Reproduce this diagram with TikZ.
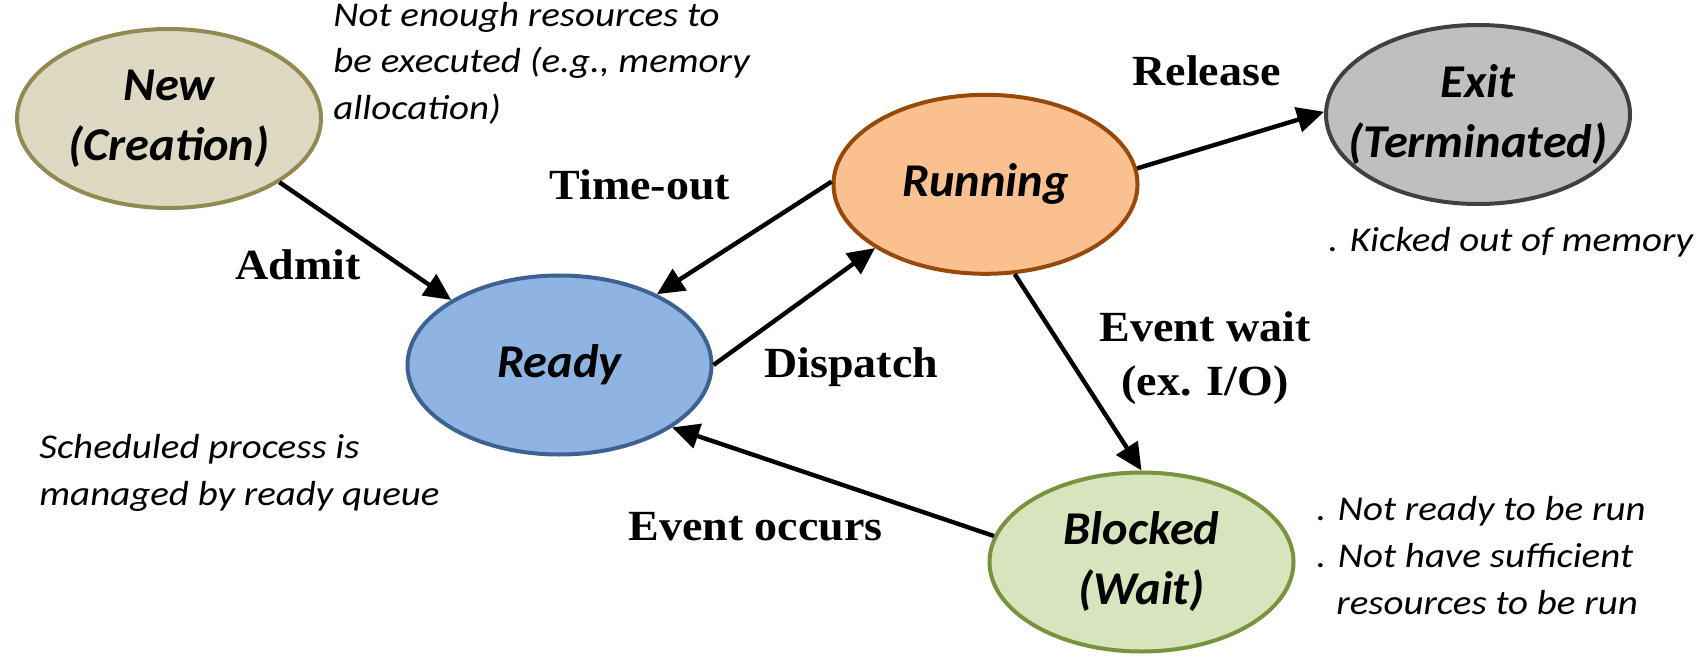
\documentclass[tikz,border=0pt]{standalone}
\usepackage{fontspec}
\setmainfont{Carlito}
\newfontfamily\annfont{Carlito}[FakeStretch=1.12]
\newfontfamily\statefont{Carlito}[FakeStretch=1.03]
\newfontfamily\lblfont{Liberation Serif}[FakeStretch=1.07]
\usetikzlibrary{arrows.meta,shapes.geometric}
\definecolor{newfill}{HTML}{DDD9C3}
\definecolor{newdraw}{HTML}{938953}
\definecolor{readyfill}{HTML}{8EB4E3}
\definecolor{readydraw}{HTML}{3D6291}
\definecolor{runfill}{HTML}{FAC090}
\definecolor{rundraw}{HTML}{984807}
\definecolor{exitfill}{HTML}{BFBFBF}
\definecolor{exitdraw}{HTML}{404040}
\definecolor{blkfill}{HTML}{D7E4BD}
\definecolor{blkdraw}{HTML}{77933C}
\begin{document}
\begin{tikzpicture}[x=0.5pt,y=-0.5pt,
  state/.style={ellipse, draw, line width=2pt, minimum width=152pt, minimum height=89.5pt, inner sep=0pt},
  stxt/.style={font=\statefont\fontsize{23.5}{30}\selectfont\bfseries\itshape, align=center, inner sep=0pt},
  conn/.style={line width=2.2pt, -{Triangle[length=13.5pt,width=12.5pt]}},
  ann/.style={font=\annfont\fontsize{17.4}{23.3}\selectfont\itshape, anchor=base west, inner sep=0pt},
  elbl/.style={font=\lblfont\fontsize{21.5}{26}\selectfont\bfseries, anchor=base west, inner sep=0pt},
  elblc/.style={elbl, anchor=base}]
\useasboundingbox (0,0) rectangle (1700,662);

% states
\node[state, fill=newfill, draw=newdraw] (new) at (169,118.5) {};
\node[stxt] (newtxt) at (new.center) {New\\(Creation)};
\node[state, fill=readyfill, draw=readydraw] (ready) at (559.5,365) {};
\node[stxt] (readytxt) at (ready.center) {Ready};
\node[state, fill=runfill, draw=rundraw] (run) at (985.5,184.3) {};
\node[stxt] (runtxt) at (run.center) {Running};
\node[state, fill=exitfill, draw=exitdraw] (exit) at (1478,114.5) {};
\node[stxt] (exittxt) at (exit.center) {Exit\\(Terminated)};
\node[state, fill=blkfill, draw=blkdraw] (blk) at (1141.5,562) {};
\node[stxt] (blktxt) at (blk.center) {Blocked\\(Wait)};

% connectors
\draw[conn] (new.-30) -- (ready.149);
\draw[conn] (run.179) -- (ready.36);
\draw[conn] (ready.0) -- (run.210.4);
\draw[conn] (run.6.6) -- (exit.179.5);
\draw[conn] (run.-72) -- (blk.90);
\draw[conn] (blk.170.7) -- (ready.-29.7);

% edge labels
\node[elbl] (ladmit) at (235,280) {Admit};
\node[elbl] (ltime) at (549,200) {Time-out};
\node[elbl] (lrel) at (1132,86) {Release};
\node[elbl] (ldisp) at (764,377) {Dispatch};
\node[elblc] (lwait1) at (1205,342) {Event wait};
\node[elblc] (lwait2) at (1205,395) {(ex. I/O)};
\node[elbl] (locc) at (628,540) {Event occurs};

% annotations
\node[ann] (a1) at (333,27) {Not enough resources to};
\node[ann] (a2) at (333,73) {be executed (e.g., memory};
\node[ann] (a3) at (333,120) {allocation)};
\node[ann] (b1) at (39,458) {Scheduled process is};
\node[ann] (b2) at (39,505) {managed by ready queue};
\node[ann] (c1) at (1328,252) {. Kicked out of memory};
\node[ann] (d1) at (1316,520) {. Not ready to be run};
\node[ann] (d2) at (1316,567) {. Not have sufficient};
\node[ann] (d3) at (1336,614) {resources to be run};
\end{tikzpicture}
\end{document}
